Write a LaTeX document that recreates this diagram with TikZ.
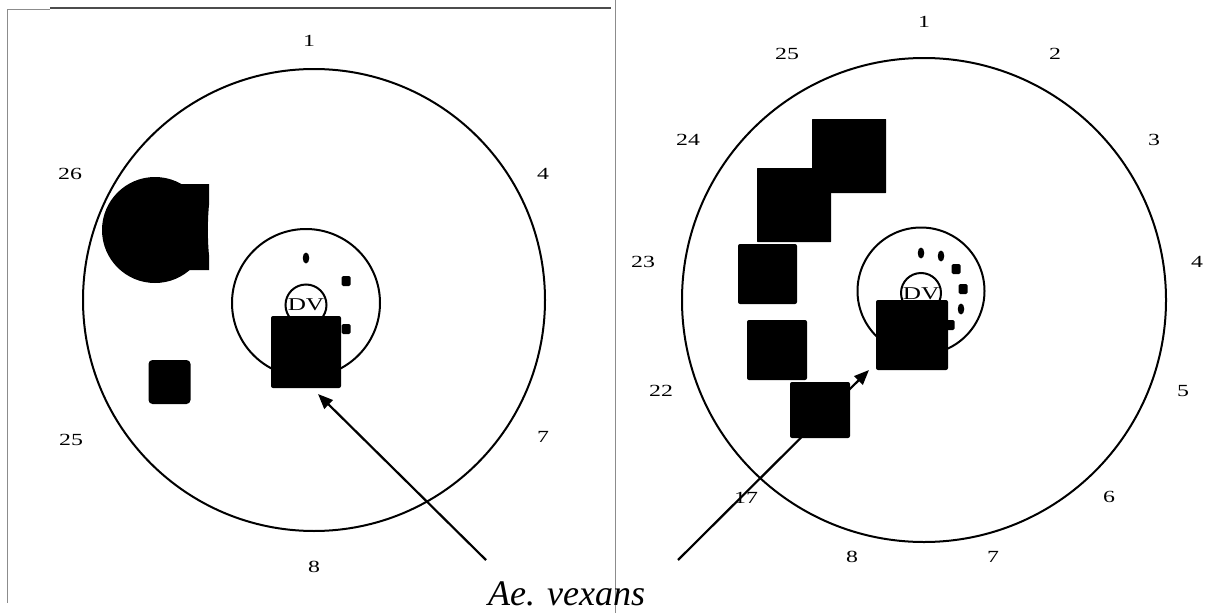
\documentclass[tikz,border=0pt]{standalone}
\usepackage{fontspec}
\setmainfont{Liberation Serif}
\usetikzlibrary{arrows.meta,shapes.geometric}
\begin{document}
\begin{tikzpicture}[x=1pt,y=-1pt,
  ring/.style={draw=black,line width=2pt,circle,inner sep=0pt},
  blk/.style={fill=black,draw=none,rectangle,rounded corners=2pt,inner sep=0pt},
  dot/.style={fill=black,draw=none,ellipse,inner sep=0pt,minimum width=6.5pt,minimum height=11pt},
  sq/.style={fill=black,draw=none,rectangle,rounded corners=1.5pt,inner sep=0pt,minimum width=9pt,minimum height=10pt},
  num/.style={inner sep=0pt,font=\fontsize{17}{17}\selectfont},
  arr/.style={line width=2.2pt,-{Triangle[length=15pt,width=12pt]}},
  frame/.style={draw=black!45,line width=0.8pt}]
\useasboundingbox (0,0) rectangle (1221,613);
% frame lines
\draw[frame] (7,9.5) -- (50,9.5);
\draw[draw=black!70,line width=1.6pt] (50,8) -- (611,8);
\draw[frame] (7,9.5) -- (7,603);
\draw[frame] (615,0) -- (615,613);

% ---------- left panel ----------
\node[ring,minimum size=462pt] (LC) at (314,300) {};
\node[ring,minimum size=148pt] (LI) at (306,303) {};
\node[ring,minimum size=41pt] (LD) at (306,305) {};
\node (LDV) at (306,305) {\fontsize{18}{18}\selectfont\scalebox{1.4}[1]{DV}};
\node[dot] (Ld1) at (306,258) {};
\node[sq] (Ls1) at (346,281) {};
\node[sq] (Ls2) at (346,329) {};
\node[blk,minimum width=70pt,minimum height=72pt] (LB) at (306,352) {};
% blob
\node[fill=black,circle,inner sep=0pt,minimum size=106pt] (Lblob) at (155,230) {};
\fill (180,184) -- (209,184) -- (209,205) .. controls (207.5,220) and (207.5,240) .. (209,255) -- (209,270) -- (180,270) -- cycle;
\node[blk,rounded corners=4pt,minimum width=42pt,minimum height=44pt] (Lsm) at (169.5,382) {};
% labels
\node[num] (l1) at (309,41) {\scalebox{1.4}[1]{1}};
\node[num] (l26) at (70,174) {\scalebox{1.4}[1]{26}};
\node[num] (l4) at (543,174) {\scalebox{1.4}[1]{4}};
\node[num] (l25) at (71,440) {\scalebox{1.4}[1]{25}};
\node[num] (l7) at (543,437) {\scalebox{1.4}[1]{7}};
\node[num] (l8) at (314,567) {\scalebox{1.4}[1]{8}};
% arrow
\coordinate (LAs) at (486,560);
\coordinate (LAt) at (318,394);
\draw[arr] (LAs) -- (LAt);

% ---------- right panel ----------
\node[ring,minimum size=484pt] (RC) at (924,300) {};
\node[ring,minimum size=127pt] (RI) at (921,291) {};
\node[ring,minimum size=40pt] (RD) at (921,293) {};
\node (RDV) at (921,294) {\fontsize{18}{18}\selectfont\scalebox{1.4}[1]{DV}};
\node[dot] (Rd1) at (921,253) {};
\node[dot] (Rd2) at (941,256) {};
\node[sq] (Rs1) at (956,269) {};
\node[sq] (Rs2) at (963,289) {};
\node[dot] (Rd3) at (961,309) {};
\node[sq] (Rs3) at (950,325) {};
\node[blk,minimum width=72pt,minimum height=70pt] (RB) at (912,335) {};
% arrow
\coordinate (RAs) at (678,560);
\coordinate (RAt) at (869,370);
\draw[arr] (RAs) -- (RAt);
% squares
\node[blk,rounded corners=0.5pt,minimum width=74pt,minimum height=74pt] (R1) at (849,156) {};
\node[blk,rounded corners=0.5pt,minimum width=74pt,minimum height=74pt] (R2) at (794,205) {};
\node[blk,minimum width=59pt,minimum height=60pt] (R3) at (767.5,274) {};
\node[blk,minimum width=60pt,minimum height=60pt] (R4) at (777,350) {};
\node[blk,minimum width=60pt,minimum height=56pt] (R5) at (820,410) {};
% labels
\node[num] (r1) at (924,22) {\scalebox{1.4}[1]{1}};
\node[num] (r25) at (787,54) {\scalebox{1.4}[1]{25}};
\node[num] (r2) at (1055,54) {\scalebox{1.4}[1]{2}};
\node[num] (r24) at (688,140) {\scalebox{1.4}[1]{24}};
\node[num] (r3) at (1154,140) {\scalebox{1.4}[1]{3}};
\node[num] (r23) at (643,262) {\scalebox{1.4}[1]{23}};
\node[num] (r4) at (1197,262) {\scalebox{1.4}[1]{4}};
\node[num] (r22) at (661,391) {\scalebox{1.4}[1]{22}};
\node[num] (r5) at (1183,391) {\scalebox{1.4}[1]{5}};
\node[num] (r17) at (746,498) {\scalebox{1.4}[1]{17}};
\node[num] (r6) at (1109,497) {\scalebox{1.4}[1]{6}};
\node[num] (r8) at (852,557) {\scalebox{1.4}[1]{8}};
\node[num] (r7) at (993,557) {\scalebox{1.4}[1]{7}};

% species name
\node[anchor=base west,inner sep=0pt] (sp) at (488,605) {\fontsize{36}{36}\selectfont\itshape Ae. vexans};
\end{tikzpicture}
\end{document}
